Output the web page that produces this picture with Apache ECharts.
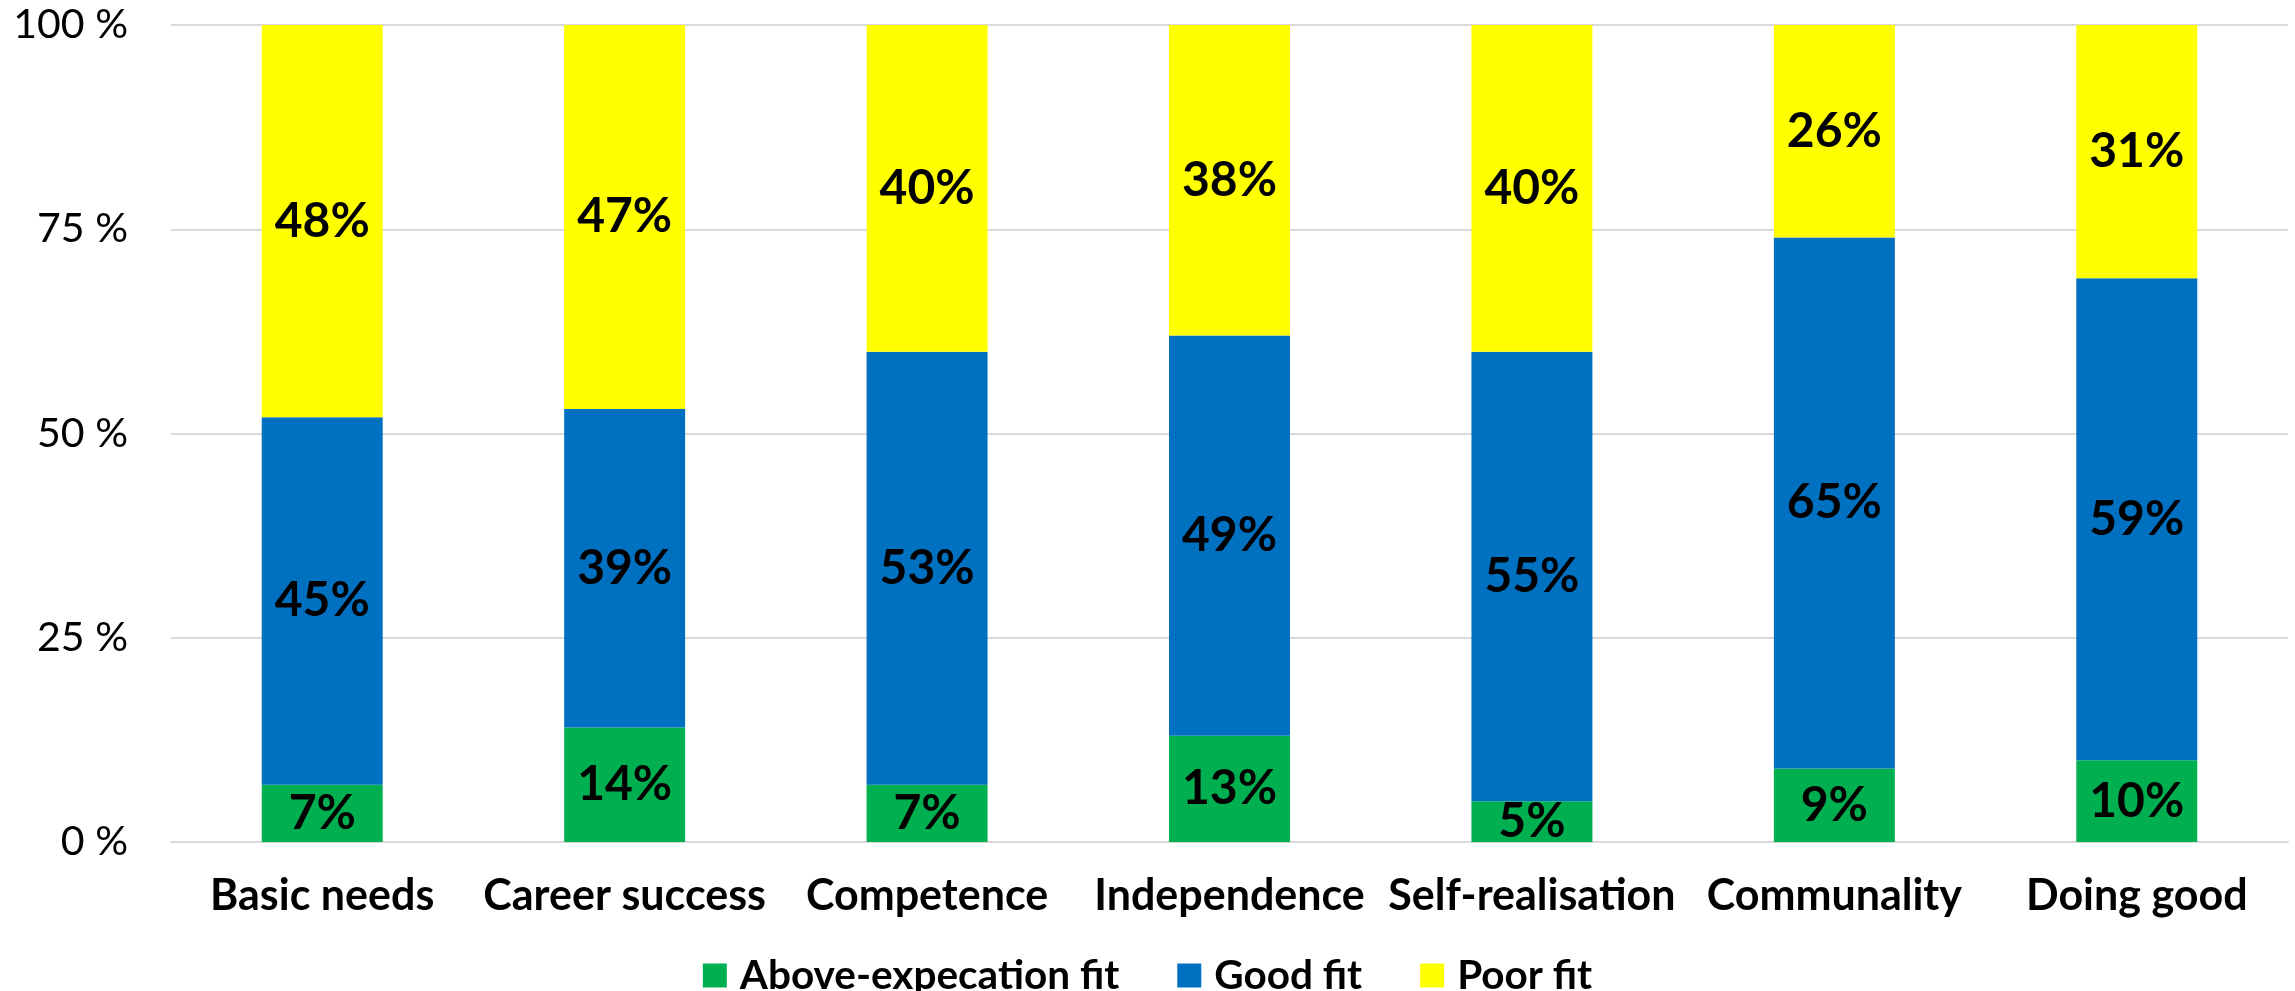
<!DOCTYPE html>
<html><head><meta charset="utf-8">
<script src="https://cdn.jsdelivr.net/npm/echarts@6/dist/echarts.min.js"></script>
<style>html,body{margin:0;padding:0;background:#fff}#c{width:2295px;height:991px}</style>
</head><body><div id="c"></div>
<script>
const categories = ['Basic needs','Career success','Competence','Independence','Self-realisation','Communality','Doing good'];
const aboveFit = [7,14,7,13,5,9,10];
const goodFit = [45,39,53,49,55,65,59];
const poorFit = [48,47,40,38,40,26,31];
const yTicks = [0,25,50,75,100];
const seriesNames = ['Above-expecation fit','Good fit','Poor fit'];
const colors = ['#00B050','#0070C0','#FFFF00'];

const chart = echarts.init(document.getElementById('c'));
const FONT = 'Lato, "Open Sans", sans-serif';
const lbl = {show:true, position:'inside', formatter: p => p.value + '%', color:'#000', fontFamily:FONT, fontWeight:'bold', fontSize:48};
const mk = (name, data, i) => ({name, type:'bar', stack:'s', data, barWidth:'40%', itemStyle:{color:colors[i]}, label:lbl});
chart.setOption({
  animation:false,
  textStyle:{fontFamily:FONT},
  grid:{left:171, right:7, top:25, bottom:149, containLabel:false},
  legend:{top:950, left:'center', itemWidth:24, itemHeight:24, itemGap:58, icon:'rect',
    textStyle:{fontFamily:FONT, fontWeight:'bold', fontSize:40.5, color:'#000', padding:[0,0,0,8]},
    data:seriesNames},
  xAxis:{type:'category', data:categories, axisLine:{lineStyle:{color:'#D9D9D9', width:2}}, axisTick:{show:false},
    axisLabel:{color:'#000', fontFamily:FONT, fontWeight:'bold', fontSize:43, margin:33, interval:0}},
  yAxis:{type:'value', min:yTicks[0], max:yTicks[yTicks.length-1], interval:25,
    axisLabel:{formatter: v => v + ' %', color:'#000', fontFamily:FONT, fontSize:41, margin:43},
    splitLine:{lineStyle:{color:'#D9D9D9', width:2}}, axisLine:{show:false}, axisTick:{show:false}},
  series:[mk(seriesNames[0], aboveFit, 0), mk(seriesNames[1], goodFit, 1), mk(seriesNames[2], poorFit, 2)]
});
</script></body></html>
